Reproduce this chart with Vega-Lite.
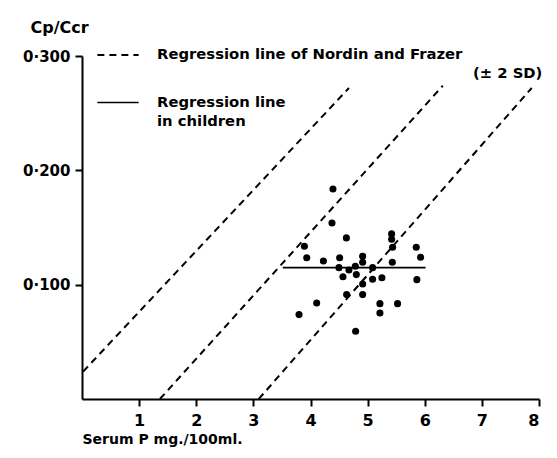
{
  "$schema": "https://vega.github.io/schema/vega-lite/v6.json",
  "width": 457,
  "height": 343,
  "autosize": "none",
  "padding": {"left": 82, "top": 56, "right": 18, "bottom": 59},
  "background": "white",
  "config": {"view": {"stroke": null}, "font": "DejaVu Sans"},
  "datasets": {
    "lines": [
      {"line": "nf", "id": "upper", "x": 0.02, "y": 0.024},
      {"line": "nf", "id": "upper", "x": 4.673, "y": 0.272},
      {"line": "nf", "id": "mean", "x": 1.364, "y": 0.0},
      {"line": "nf", "id": "mean", "x": 6.316, "y": 0.274},
      {"line": "nf", "id": "lower", "x": 3.094, "y": 0.0},
      {"line": "nf", "id": "lower", "x": 7.872, "y": 0.272},
      {"line": "children", "id": "child", "x": 3.514, "y": 0.1149},
      {"line": "children", "id": "child", "x": 6.014, "y": 0.1149}
    ],
    "points": [
      {"x": 4.393, "y": 0.1837},
      {"x": 4.376, "y": 0.154},
      {"x": 4.628, "y": 0.1409},
      {"x": 3.893, "y": 0.1336},
      {"x": 3.934, "y": 0.1236},
      {"x": 4.226, "y": 0.1207},
      {"x": 4.51, "y": 0.1236},
      {"x": 4.498, "y": 0.1149},
      {"x": 4.568, "y": 0.107},
      {"x": 4.673, "y": 0.1129},
      {"x": 4.785, "y": 0.1161},
      {"x": 4.802, "y": 0.1088},
      {"x": 4.913, "y": 0.1248},
      {"x": 4.913, "y": 0.1196},
      {"x": 5.087, "y": 0.1149},
      {"x": 5.087, "y": 0.1047},
      {"x": 5.25, "y": 0.1061},
      {"x": 4.913, "y": 0.1006},
      {"x": 4.633, "y": 0.0913},
      {"x": 4.913, "y": 0.0913},
      {"x": 4.108, "y": 0.084},
      {"x": 3.799, "y": 0.0738},
      {"x": 5.215, "y": 0.0834},
      {"x": 5.215, "y": 0.0752},
      {"x": 5.524, "y": 0.0834},
      {"x": 4.79, "y": 0.0592},
      {"x": 5.42, "y": 0.1444},
      {"x": 5.42, "y": 0.1397},
      {"x": 5.437, "y": 0.1327},
      {"x": 5.432, "y": 0.1196},
      {"x": 5.851, "y": 0.1327},
      {"x": 5.927, "y": 0.124},
      {"x": 5.862, "y": 0.1044}
    ]
  },
  "layer": [
    {
      "data": {"name": "lines"},
      "mark": {"type": "line", "color": "black", "clip": true},
      "encoding": {
        "x": {
          "field": "x",
          "type": "quantitative",
          "scale": {"domain": [0, 8], "nice": false, "zero": false},
          "axis": {
            "values": [1, 2, 3, 4, 5, 6, 7, 8],
            "format": "d",
            "grid": false,
            "domainColor": "black",
            "domainWidth": 2,
            "tickColor": "black",
            "tickWidth": 2,
            "tickSize": 7,
            "labelFont": "DejaVu Sans",
            "labelFontWeight": "bold",
            "labelFontSize": 16,
            "labelColor": "black",
            "labelPadding": 6,
            "title": "Serum P mg./100ml.",
            "titleFont": "DejaVu Sans",
            "titleFontWeight": "bold",
            "titleFontSize": 14,
            "titleColor": "black",
            "titleAnchor": "start",
            "titleAlign": "left",
            "titleBaseline": "alphabetic",
            "titleX": 0,
            "titleY": 44
          }
        },
        "y": {
          "field": "y",
          "type": "quantitative",
          "scale": {"domain": [0, 0.3], "nice": false, "zero": false},
          "axis": {
            "values": [0.1, 0.2, 0.3],
            "grid": false,
            "domainColor": "black",
            "domainWidth": 2,
            "tickColor": "black",
            "tickWidth": 2,
            "tickSize": 7,
            "labelExpr": "replace(format(datum.value, '.3f'), '.', '·')",
            "labelFont": "DejaVu Sans",
            "labelFontWeight": "bold",
            "labelFontSize": 15,
            "labelColor": "black",
            "labelPadding": 5,
            "title": "Cp/Ccr",
            "titleFont": "DejaVu Sans",
            "titleFontWeight": "bold",
            "titleFontSize": 16,
            "titleColor": "black",
            "titleAngle": 0,
            "titleAlign": "left",
            "titleBaseline": "alphabetic",
            "titleX": -52,
            "titleY": -24
          }
        },
        "detail": {"field": "id"},
        "strokeWidth": {
          "field": "line",
          "type": "nominal",
          "scale": {"domain": ["nf", "children"], "range": [2, 1.6]},
          "legend": null
        },
        "strokeDash": {
          "field": "line",
          "type": "nominal",
          "scale": {"domain": ["nf", "children"], "range": [[7, 5], [1, 0]]},
          "legend": {
            "orient": "none",
            "legendX": 14,
            "legendY": -23,
            "title": null,
            "symbolType": "stroke",
            "symbolSize": 1700,
            "symbolStrokeWidth": 2,
            "symbolStrokeColor": "black",
            "labelFont": "DejaVu Sans",
            "labelFontWeight": "bold",
            "labelFontSize": 14.8,
            "labelColor": "black",
            "labelOffset": 17,
            "labelLimit": 520,
            "rowPadding": 0,
            "encode": {"labels": {"update": {"lineHeight": {"value": 19}}}},
            "labelExpr": "datum.value == 'nf' ? ['Regression line of Nordin and Frazer', '\u200b\u2003\u2003\u2003\u2003\u2003\u2003\u2003\u2003\u2003\u2003\u2003\u2003\u2003\u2003\u2003\u2003\u2003\u2003\u2003\u2003\u2003\u00a0(± 2 SD)'] : ['Regression line', 'in children']"
          }
        }
      }
    },
    {
      "data": {"name": "points"},
      "mark": {"type": "point", "filled": true, "color": "black", "opacity": 1, "size": 50},
      "encoding": {
        "x": {"field": "x", "type": "quantitative"},
        "y": {"field": "y", "type": "quantitative"}
      }
    }
  ]
}
